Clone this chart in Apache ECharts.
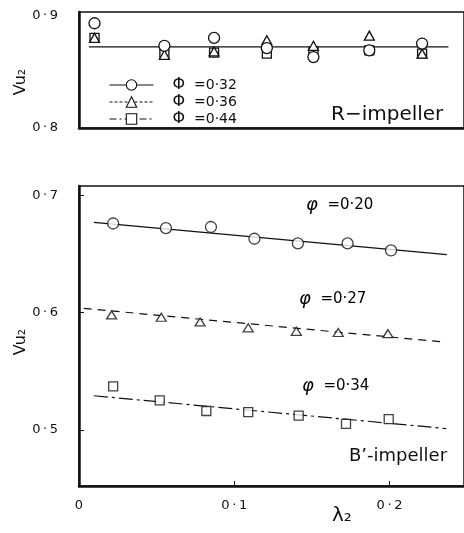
<!DOCTYPE html>
<html>
<head>
<meta charset="utf-8">
<script src="https://cdn.jsdelivr.net/npm/echarts@6/dist/echarts.min.js"></script>
<style>
  html, body { margin: 0; padding: 0; background: #fff; }
  #main { width: 464px; height: 533px; }
</style>
</head>
<body>
<div id="main"></div>
<script>
// R-impeller (top panel)
var topX = [0.010, 0.055, 0.087, 0.121, 0.151, 0.187, 0.221];
var topCircle = [0.893, 0.873, 0.880, 0.871, 0.863, 0.869, 0.875];
var topTriangle = [0.880, 0.865, 0.868, 0.878, 0.873, 0.882, 0.866];
var topSquare = [0.880, 0.866, 0.867, 0.866, 0.868, 0.869, 0.866];
var topFitX = [0.0064, 0.238];
var topFitY = [0.872, 0.872];
var topNames = ['Φ  =0·32', 'Φ  =0·36', 'Φ  =0·44'];

// B'-impeller (bottom panel)
var botX1 = [0.022, 0.056, 0.085, 0.113, 0.141, 0.173, 0.201];
var botCircle = [0.676, 0.672, 0.673, 0.663, 0.659, 0.659, 0.653];
var botX2 = [0.021, 0.053, 0.078, 0.109, 0.140, 0.167, 0.199];
var botTriangle = [0.598, 0.596, 0.592, 0.587, 0.584, 0.583, 0.582];
var botX3 = [0.022, 0.052, 0.082, 0.109, 0.1415, 0.172, 0.1995];
var botSquare = [0.537, 0.525, 0.516, 0.515, 0.512, 0.505, 0.509];
var fitX1 = [0.0096, 0.237], fitY1 = [0.677, 0.6495];
var fitX2 = [0.003, 0.2365], fitY2 = [0.6036, 0.5747];
var fitX3 = [0.0096, 0.2365], fitY3 = [0.529, 0.501];

var xTicks = [0, 0.1, 0.2];
var topYTicks = [0.8, 0.9];
var botYTicks = [0.5, 0.6, 0.7];

function pairs(xs, ys) {
    return xs.map(function (x, i) { return [x, ys[i]]; });
}
function tickText(v) {
    return v === 0 ? '0' : String(v).replace('.', '\u2009·\u2009');
}

var ink = '#111';
var hollow = { color: '#fff', borderColor: ink, borderWidth: 1.3 };
var legendMark = { color: '#fff', borderColor: ink, borderWidth: 1.1 };
var dashDot = [7, 3, 2, 3];
var phiRich = { p: { fontSize: 18, fontStyle: 'italic', color: ink, fontFamily: 'DejaVu Sans' }, t: { fontSize: 15, color: ink, fontFamily: 'DejaVu Sans' } };

var chart = echarts.init(document.getElementById('main'));
var option = {
    backgroundColor: '#fff',
    animation: false,
    textStyle: { fontFamily: 'DejaVu Sans', color: ink },
    grid: [
        { left: 79, right: 0, top: 12, height: 116, show: true, borderColor: ink, borderWidth: 1.5 },
        { left: 79, right: 0, top: 186, height: 300, show: true, borderColor: ink, borderWidth: 1.5 }
    ],
    xAxis: [
        {
            gridIndex: 0, type: 'value', min: 0, max: 0.248,
            axisLine: { show: true, lineStyle: { color: ink, width: 2.5 } },
            axisTick: { show: false }, axisLabel: { show: false }, splitLine: { show: false }
        },
        {
            gridIndex: 1, type: 'value', min: 0, max: 0.248,
            axisLine: { show: true, lineStyle: { color: ink, width: 2.5 } },
            axisTick: { show: true, inside: true, length: 5, customValues: xTicks, lineStyle: { color: ink } },
            axisLabel: { customValues: xTicks, formatter: tickText, fontSize: 13, color: ink, margin: 13 },
            splitLine: { show: false }
        }
    ],
    yAxis: [
        {
            gridIndex: 0, type: 'value', min: 0.8, max: 0.903,
            axisLine: { show: true, lineStyle: { color: ink, width: 2.5 } },
            axisTick: { show: false },
            axisLabel: { customValues: topYTicks, formatter: tickText, fontSize: 13, color: ink, margin: 21 },
            splitLine: { show: false }
        },
        {
            gridIndex: 1, type: 'value', min: 0.452, max: 0.708,
            axisLine: { show: true, lineStyle: { color: ink, width: 2.5 } },
            axisTick: { show: true, inside: true, length: 5, customValues: botYTicks, lineStyle: { color: ink } },
            axisLabel: { customValues: botYTicks, formatter: tickText, fontSize: 13, color: ink, margin: 21 },
            splitLine: { show: false }
        }
    ],
    legend: {
        orient: 'vertical', left: 104, top: 72, itemWidth: 44, itemHeight: 13, itemGap: 1,
        formatter: function (name) { return '{p|Φ}{t|' + name.slice(1) + '}'; },
        textStyle: { fontSize: 14, color: ink, padding: [0, 0, 0, 14], rich: { p: { fontSize: 16, color: ink }, t: { fontSize: 14, color: ink } } },
        data: [
            { name: topNames[0], itemStyle: legendMark, lineStyle: { opacity: 1, width: 1, type: 'solid', color: ink } },
            { name: topNames[1], itemStyle: legendMark, lineStyle: { opacity: 1, width: 1, type: [3, 2], color: ink } },
            { name: topNames[2], itemStyle: legendMark, lineStyle: { opacity: 1, width: 1, type: dashDot, color: ink } }
        ]
    },
    series: [
        {
            name: 'fit', type: 'line', xAxisIndex: 0, yAxisIndex: 0, data: pairs(topFitX, topFitY),
            showSymbol: false, lineStyle: { color: ink, width: 1.2 }, z: 1
        },
        {
            name: topNames[2], type: 'line', xAxisIndex: 0, yAxisIndex: 0, data: pairs(topX, topSquare),
            symbol: 'rect', symbolSize: 9, itemStyle: hollow, lineStyle: { opacity: 0 }, z: 3
        },
        {
            name: topNames[1], type: 'line', xAxisIndex: 0, yAxisIndex: 0, data: pairs(topX, topTriangle),
            symbol: 'triangle', symbolSize: [10, 9], itemStyle: hollow, lineStyle: { opacity: 0 }, z: 4
        },
        {
            name: topNames[0], type: 'line', xAxisIndex: 0, yAxisIndex: 0, data: pairs(topX, topCircle),
            symbol: 'circle', symbolSize: 11, itemStyle: hollow, lineStyle: { opacity: 0 }, z: 5
        },
        {
            type: 'line', xAxisIndex: 1, yAxisIndex: 1, data: pairs(fitX1, fitY1),
            showSymbol: false, lineStyle: { color: ink, width: 1.2 }, z: 1
        },
        {
            type: 'line', xAxisIndex: 1, yAxisIndex: 1, data: pairs(fitX2, fitY2),
            showSymbol: false, lineStyle: { color: ink, width: 1.2, type: [8, 6] }, z: 1
        },
        {
            type: 'line', xAxisIndex: 1, yAxisIndex: 1, data: pairs(fitX3, fitY3),
            showSymbol: false, lineStyle: { color: ink, width: 1.2, type: [14, 4, 3, 4] }, z: 1
        },
        {
            type: 'scatter', xAxisIndex: 1, yAxisIndex: 1, data: pairs(botX1, botCircle),
            symbol: 'circle', symbolSize: 11, itemStyle: hollow, z: 3
        },
        {
            type: 'scatter', xAxisIndex: 1, yAxisIndex: 1, data: pairs(botX2, botTriangle),
            symbol: 'triangle', symbolSize: [10, 8], itemStyle: hollow, z: 3
        },
        {
            type: 'scatter', xAxisIndex: 1, yAxisIndex: 1, data: pairs(botX3, botSquare),
            symbol: 'rect', symbolSize: 9, itemStyle: hollow, z: 3
        }
    ],
    graphic: [
        { type: 'text', left: 331, top: 105, style: { text: 'R−impeller', font: '20px "DejaVu Sans"', fill: ink } },
        { type: 'text', left: 349, top: 447, style: { text: 'B’-impeller', font: '18px "DejaVu Sans"', fill: ink } },
        { type: 'text', left: 306, top: 196, style: { text: '{p|φ}{t|  =0·20}', rich: phiRich } },
        { type: 'text', left: 299, top: 290, style: { text: '{p|φ}{t|  =0·27}', rich: phiRich } },
        { type: 'text', left: 302, top: 377, style: { text: '{p|φ}{t|  =0·34}', rich: phiRich } },
        { type: 'text', x: 21, y: 82, rotation: Math.PI / 2, style: { text: 'Vu₂', font: '16px "DejaVu Sans"', fill: ink, align: 'center', verticalAlign: 'middle' } },
        { type: 'text', x: 21, y: 342, rotation: Math.PI / 2, style: { text: 'Vu₂', font: '16px "DejaVu Sans"', fill: ink, align: 'center', verticalAlign: 'middle' } },
        { type: 'text', left: 332, top: 506, style: { text: 'λ₂', font: '20px "DejaVu Sans"', fill: ink } }
    ]
};
chart.setOption(option);
</script>
</body>
</html>
